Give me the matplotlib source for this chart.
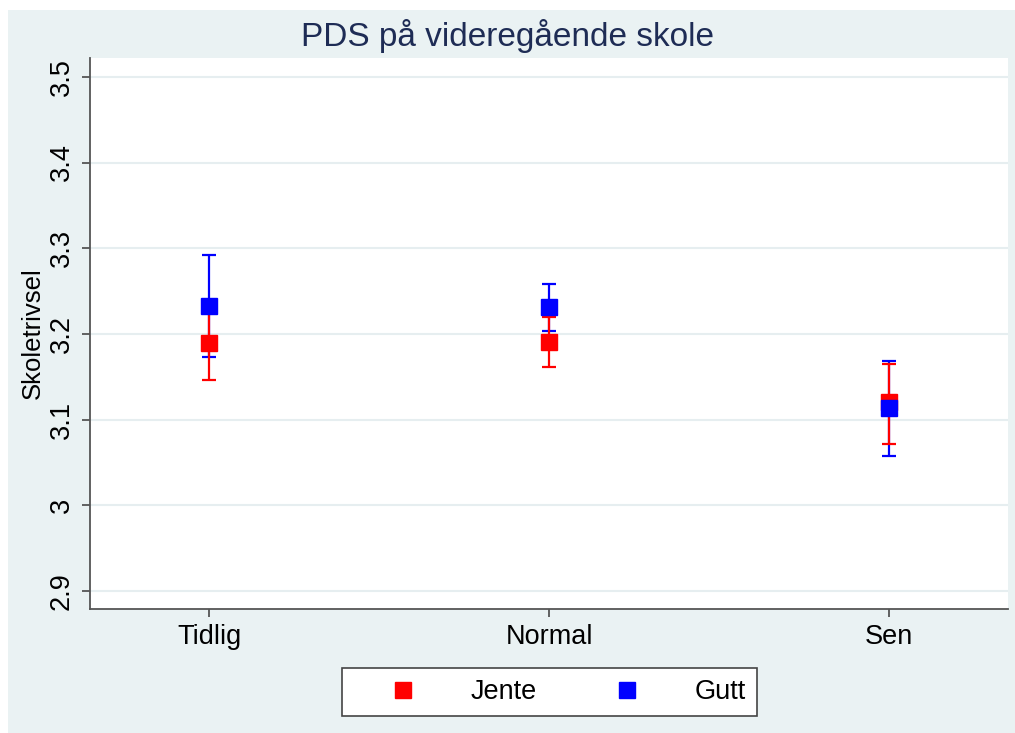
import matplotlib
matplotlib.use("Agg")
import matplotlib.pyplot as plt
from matplotlib.patches import Rectangle

categories = ["Tidlig", "Normal", "Sen"]
jente_mean = [3.189, 3.190, 3.120]
jente_lo = [3.146, 3.161, 3.071]
jente_hi = [3.232, 3.220, 3.165]
gutt_mean = [3.233, 3.231, 3.113]
gutt_lo = [3.173, 3.204, 3.057]
gutt_hi = [3.292, 3.258, 3.168]
yticks = [2.9, 3.0, 3.1, 3.2, 3.3, 3.4, 3.5]
ytick_labels = ["2.9", "3", "3.1", "3.2", "3.3", "3.4", "3.5"]

plt.rcParams['font.family'] = ['Liberation Sans', 'DejaVu Sans']

BG = "#EAF2F3"
fig = plt.figure(figsize=(10.15, 7.33), dpi=100, facecolor="white")
fig.patches.append(Rectangle((8/1015, 0), 1 - 8/1015, 1 - 10/733,
                             transform=fig.transFigure, facecolor=BG,
                             edgecolor="none", zorder=-10))

ax = fig.add_axes([90/1015, 1 - 609/733, (1008-90)/1015, (609-58)/733])
ax.set_facecolor("white")

x = [1, 2, 3]
def yerr(m, lo, hi):
    return [[a - b for a, b in zip(m, lo)], [c - a for a, c in zip(m, hi)]]

ax.errorbar(x, gutt_mean, yerr=yerr(gutt_mean, gutt_lo, gutt_hi), fmt="none",
            ecolor="#0000FF", elinewidth=1.6, capsize=5, capthick=1.6, zorder=3)
ax.errorbar(x, jente_mean, yerr=yerr(jente_mean, jente_lo, jente_hi), fmt="none",
            ecolor="#FF0000", elinewidth=1.6, capsize=5, capthick=1.6, zorder=3)
ax.plot(x, jente_mean, linestyle="none", marker="s", markersize=12,
        color="#FF0000", zorder=4, label="Jente")
ax.plot(x, gutt_mean, linestyle="none", marker="s", markersize=12,
        color="#0000FF", zorder=5, label="Gutt")

ax.set_xlim(0.65, 3.35)
ax.set_ylim(2.879, 3.522)
ax.set_xticks(x)
ax.set_xticklabels(categories, fontsize=19.5)
ax.set_yticks(yticks)
ax.set_yticklabels(ytick_labels, fontsize=19.5, rotation=90, va="center")
ax.yaxis.grid(True, color="#E6EEF0", linewidth=1.5)
ax.set_axisbelow(True)
for s in ["top", "right"]:
    ax.spines[s].set_visible(False)
for s in ["left", "bottom"]:
    ax.spines[s].set_color("#555555")
    ax.spines[s].set_linewidth(1.3)
ax.tick_params(axis="both", length=6, width=1.3, color="#555555", pad=5)
ax.set_ylabel("Skoletrivsel", fontsize=18.5, labelpad=3)

fig.text(0.5, 1 - 36/733, "PDS på videregående skole", ha="center", va="center",
         fontsize=24, color="#1E2C55")

leg = fig.legend(loc="center", bbox_to_anchor=(549.5/1015, 1 - 692/733), ncol=2,
                 fontsize=19.5, frameon=True, fancybox=False, handlelength=3.7,
                 handletextpad=0.63, columnspacing=1.5, borderpad=0.42,
                 markerscale=0.95, framealpha=1.0)
leg.get_frame().set_edgecolor("#444444")
leg.get_frame().set_linewidth(1.2)

fig.savefig("out.png", dpi=100, facecolor=fig.get_facecolor())
